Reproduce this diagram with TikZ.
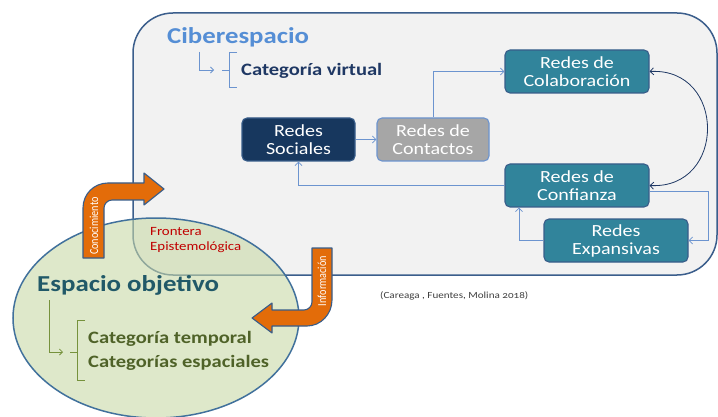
\documentclass[tikz,border=0pt]{standalone}
\usepackage{fontspec}
\usepackage{graphicx}
\setmainfont{Carlito}[FakeStretch=1.18]
\newfontfamily\plaincarlito{Carlito}
\usetikzlibrary{arrows.meta}
\definecolor{rectfill}{HTML}{F2F2F2}
\definecolor{rectborder}{HTML}{3B5E8C}
\definecolor{ellfill}{HTML}{C9DAA8}
\definecolor{ellborder}{HTML}{41719C}
\definecolor{ciber}{HTML}{558ED5}
\definecolor{navy}{HTML}{1F3864}
\definecolor{sociales}{HTML}{17375E}
\definecolor{contactos}{HTML}{A6A6A6}
\definecolor{teal}{HTML}{31849B}
\definecolor{boxborder}{HTML}{385D8A}
\definecolor{linkblue}{HTML}{6C94CF}
\definecolor{orange}{HTML}{E36C09}
\definecolor{fronter}{HTML}{C00000}
\definecolor{espacio}{HTML}{215968}
\definecolor{olive}{HTML}{4F6228}
\definecolor{olivebr}{HTML}{76923C}
\definecolor{cite}{HTML}{404040}
\begin{document}
\begin{tikzpicture}[x=1pt,y=-1pt,
  box/.style={draw=boxborder, line width=1.1pt, rounded corners=5pt, text=white,
    align=center, font=\fontsize{17}{18}\selectfont, inner sep=0pt},
  link/.style={draw=linkblue, line width=0.8pt, -{Straight Barb[length=3.5pt,width=7pt]}},
  orangearrow/.style={fill=orange, draw=boxborder, line width=1.1pt, line join=round},
  arrowlabel/.style={text=white, font=\plaincarlito\fontsize{10.2}{11}\selectfont, rotate=90, inner sep=0pt}]
\useasboundingbox (0,0) rectangle (718,417);
\fill[white] (0,0) rectangle (718,417);
% Ciberespacio area
\draw[fill=rectfill, draw=rectborder, line width=1.5pt, rounded corners=40pt]
  (133,13) rectangle (717,275);
% Espacio objetivo ellipse
\fill[ellfill, fill opacity=0.6] (156,318) ellipse [x radius=143, y radius=100];
\draw[ellborder, line width=1.5pt] (156,318) ellipse [x radius=143, y radius=100];

% Titles
\node[anchor=base west, text=ciber, font=\bfseries\fontsize{22.7}{24}\selectfont, inner sep=0pt] (tciber) at (167,44) {Ciberespacio};
\node[anchor=base west, text=navy, font=\bfseries\fontsize{17.4}{18}\selectfont, inner sep=0pt] (tvirt) at (241,76) {Categoría virtual};
% bracket Ciberespacio
\coordinate (cb1) at (199,52);
\coordinate (cb2) at (214,70);
\draw[linkblue, line width=0.8pt, -{Straight Barb[length=3pt,width=6pt]}] (cb1) |- (cb2);
\draw[linkblue, line width=0.8pt] (237,52) -- (229,52) -- (229,87) -- (237,87) (222,70) -- (229,70);

% Boxes
\node[box, fill=sociales, minimum width=113pt, minimum height=43pt] (soc) at (298.5,139.5) {Redes\\Sociales};
\node[box, fill=contactos, draw=linkblue, minimum width=112pt, minimum height=43pt] (con) at (433,139.5) {Redes de\\Contactos};
\node[box, fill=teal, minimum width=144pt, minimum height=43pt] (col) at (577,71.5) {Redes de\\Colaboración};
\node[box, fill=teal, minimum width=144pt, minimum height=43pt] (conf) at (577,185.5) {Redes de\\Confianza};
\node[box, fill=teal, minimum width=144pt, minimum height=43pt] (exp) at (616,240.5) {Redes\\Expansivas};

% connectors
\draw[link] (soc.east) -- (con.west);
\draw[link] (con.north) |- (col.west);
\draw[link] (conf.west) -| (soc.south);
\draw[link] ([yshift=-5.5pt]conf.east) -- ++(59,0) |- (exp.east);
\draw[link] (exp.west) -| ([xshift=-58pt]conf.south);
\draw[navy, line width=0.8pt, {Straight Barb[length=3.5pt,width=7pt]}-{Straight Barb[length=3.5pt,width=7pt]}]
  (col.east) .. controls +(77,-4) and +(77,4) .. (conf.east);

% Frontera
\node[anchor=base west, text=fronter, font=\fontsize{12.6}{13}\selectfont, inner sep=0pt] (tfront) at (150,236) {Frontera};
\node[anchor=base west, text=fronter, font=\fontsize{12.6}{13}\selectfont, inner sep=0pt] (tepis) at (150,251) {Epistemológica};

% Espacio objetivo
\node[anchor=base west, text=espacio, font=\bfseries\fontsize{22.8}{24}\selectfont, inner sep=0pt] (tesp) at (37,291) {Espacio objetivo};
\coordinate (eb1) at (49,300);
\coordinate (eb2) at (63,352);
\draw[olivebr, line width=0.8pt, -{Straight Barb[length=3pt,width=6pt]}] (eb1) |- (eb2);
\draw[olivebr, line width=0.8pt] (85,320) -- (77,320) -- (77,380) -- (85,380) (70,352) -- (77,352);
\node[anchor=base west, text=olive, font=\bfseries\fontsize{17.4}{18}\selectfont, inner sep=0pt] (ttemp) at (88,343) {Categoría temporal};
\node[anchor=base west, text=olive, font=\bfseries\fontsize{17.4}{18}\selectfont, inner sep=0pt] (tespa) at (88,367) {Categorías espaciales};

% citation
\node[anchor=base west, text=cite, font=\addfontfeature{Numbers=OldStyle}\fontsize{9.4}{10}\selectfont, inner sep=0pt] (tcite) at (380,298) {(Careaga , Fuentes, Molina 2018)};

% Conocimiento arrow
\draw[orangearrow] (83,258) -- (83,208) .. controls (83,194) and (94,183) .. (108,183)
  -- (144,183) -- (144,173) -- (164,189) -- (144,205) -- (144,200) -- (112,200)
  .. controls (107.5,200) and (104,204) .. (104,208) -- (104,258) -- cycle;
\node[arrowlabel] (lcon) at (94,226) {\scalebox{1}[1.2]{Conocimiento}};

% Información arrow
\draw[orangearrow] (312,248) -- (332,248) -- (332,300) .. controls (332,314) and (321,326) .. (307,326)
  -- (272,326) -- (272,333) -- (252,318) -- (272,303) -- (272,310) -- (304,310)
  .. controls (308.5,310) and (312,306) .. (312,302) -- cycle;
\node[arrowlabel] (linf) at (322,281) {\scalebox{1}[1.2]{Información}};
\end{tikzpicture}
\end{document}
